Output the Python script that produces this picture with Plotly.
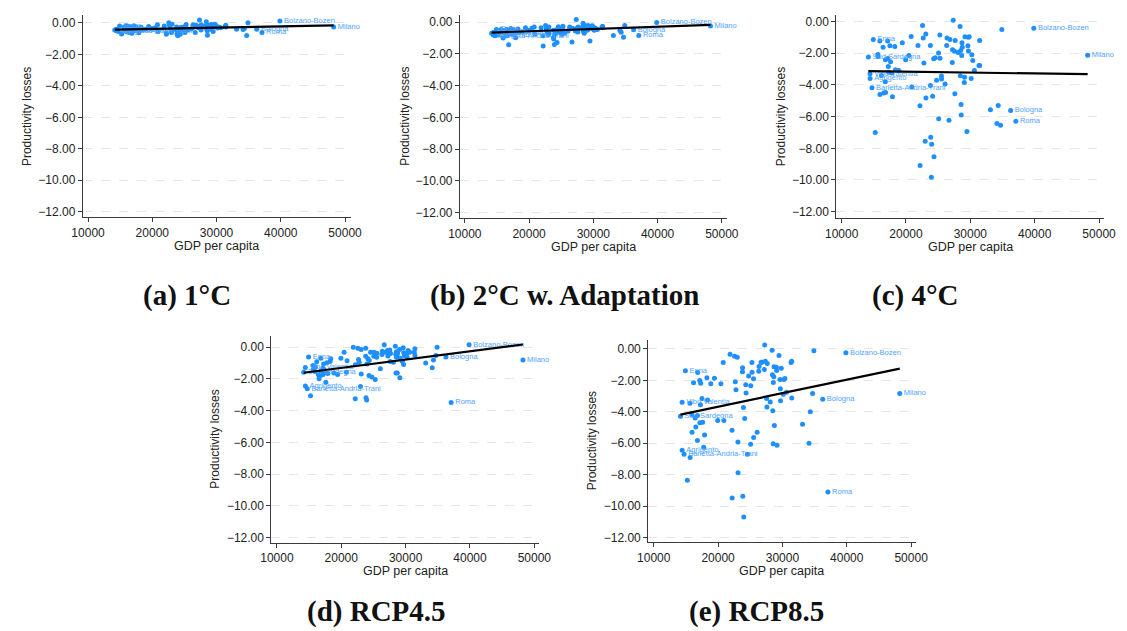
import plotly.graph_objects as go

# ---------------- data ----------------
named = ["Sud Sardegna", "Vibo Valentia", "Agrigento", "Barletta-Andria-Trani", "Enna",
         "Bologna", "Roma", "Bolzano-Bozen", "Milano"]
named_gdp = [14157, 14410, 14420, 14715, 14918, 36260, 37070, 39860, 48230]
named_a = [-0.45, -0.40, -0.50, -0.55, -0.20, -0.40, -0.61, 0.13, -0.25]
named_b = [-0.70, -0.65, -0.80, -0.85, -0.45, -0.48, -0.84, -0.02, -0.23]
named_c = [-2.24, -3.29, -3.59, -4.17, -1.13, -5.62, -6.29, -0.42, -2.12]
named_d = [-1.57, -1.28, -2.45, -2.62, -0.61, -0.61, -3.48, 0.15, -0.80]
named_e = [-4.29, -3.40, -6.44, -6.70, -1.39, -3.21, -9.11, -0.25, -2.83]

gdp = [15222, 15627, 15650, 15932, 15950, 16185, 16440, 16540, 16790, 16800,
       16820, 17150, 17170, 17250, 17300, 17500, 17600, 17760, 17900, 18260,
       18360, 18870, 19430, 19940, 20440, 20800, 20900, 21860, 22170, 22190,
       22570, 22680, 22780, 22980, 23080, 23100, 23790, 23800, 23840, 23940,
       23990, 24140, 24300, 24350, 24550, 24750, 25060, 25080, 25260, 25280,
       25510, 25530, 26070, 26320, 26370, 26680, 26830, 27190, 27240, 27340,
       27540, 27590, 27640, 28100, 28400, 28450, 28500, 28560, 28580, 28660,
       28700, 28750, 29060, 29100, 29160, 29470, 29620, 29680, 29700, 29820,
       30130, 30230, 30380, 30630, 31340, 31440, 31450, 33120, 34130, 34330,
       34690, 34890]

loss_a = [-0.70, -0.25, -0.45, -0.20, -0.55, -0.40, -0.22, -0.60, -0.45, -0.30,
          -0.65, -0.18, -0.35, -0.42, -0.50, -0.25, -0.38, -0.48, -0.62, -0.28,
          -0.45, -0.40, -0.22, -0.35, -0.30, -0.12, -0.55, -0.20, -0.62, -0.72,
          0.02, -0.15, -0.35, -0.60, -0.08, -0.50, -0.25, -0.45, -0.70, -0.78,
          -0.80, -0.55, -0.30, -0.72, -0.28, -0.42, -0.22, -0.60, -0.10, -0.32,
          -0.40, -0.45, -0.38, -0.18, -0.12, -0.60, -0.15, -0.30, -0.22, 0.19,
          -0.20, -0.45, -0.12, -0.22, 0.08, -0.38, -0.20, -0.50, -0.78, -0.25,
          -0.15, -0.18, -0.40, -0.35, -0.10, -0.55, -0.15, -0.08, -0.22, -0.12,
          -0.32, -0.25, -0.28, -0.30, -0.22, -0.15, -0.25, -0.40, -0.42, -0.35,
          -0.80, 0.02]

loss_b = [-0.80, -0.45, -0.60, -0.50, -1.00, -0.70, -0.45, -0.85, -0.70, -0.55,
          -1.42, -0.40, -0.55, -0.65, -0.75, -0.45, -0.60, -0.70, -0.98, -0.42,
          -0.65, -0.60, -0.35, -0.50, -0.38, -0.30, -0.75, -0.35, -0.85, -1.49,
          -0.20, -0.40, -0.60, -0.78, -0.30, -0.70, -0.50, -0.96, -1.05, -1.40,
          -0.75, -0.70, -0.45, -1.28, -0.28, -0.65, -0.40, -0.78, -0.25, -0.48,
          -0.60, -0.70, -0.55, -0.30, -0.35, -1.24, -0.40, -0.55, -0.45, 0.17,
          -0.35, -0.62, -0.30, -0.35, -0.06, -0.55, -0.25, -0.65, -0.70, -0.40,
          -0.30, -0.22, -0.50, -0.45, -0.20, -1.19, -0.30, -0.25, -0.40, -0.22,
          -0.50, -0.35, -0.40, -0.45, -0.30, -0.25, -0.35, -0.84, -0.52, -0.63,
          -0.94, -0.21]

loss_c = [-7.00, -2.08, -2.20, -1.22, -4.60, -3.40, -1.62, -4.51, -3.80, -2.41,
          -4.47, -1.22, -2.33, -2.83, -3.20, -1.53, -2.54, -3.25, -4.74, -1.57,
          -3.04, -3.08, -1.34, -2.41, -2.14, -0.94, -4.13, -1.51, -5.31, -9.08,
          -0.25, -1.03, -2.62, -7.55, -0.78, -4.82, -1.51, -4.03, -7.30, -9.82,
          -7.74, -4.72, -2.35, -8.54, -2.29, -3.71, -1.99, -6.13, -0.84, -2.31,
          -3.44, -3.63, -3.94, -1.51, -1.03, -6.23, -1.13, -2.58, -1.78, 0.08,
          -1.87, -4.55, -1.20, -1.95, -0.31, -3.42, -1.83, -5.24, -5.89, -2.14,
          -1.34, -1.62, -3.84, -3.52, -0.96, -6.94, -1.53, -0.99, -1.85, -0.96,
          -3.59, -2.10, -2.45, -3.08, -2.77, -1.20, -2.77, -5.56, -6.44, -5.29,
          -6.55, -0.50]

loss_d = [-3.06, -1.15, -1.40, -1.53, -1.25, -0.92, -1.74, -1.99, -1.78, -1.51,
          -0.69, -1.32, -1.72, -1.05, -1.40, -1.57, -2.20, -0.98, -1.65, -0.90,
          -0.73, -1.63, -1.72, -0.69, -0.31, -1.57, -0.85, 0.00, -3.25, -1.11,
          -0.06, -0.77, -0.94, -2.47, -0.15, -1.68, -0.06, -0.57, -3.18, -3.33,
          -1.05, -0.73, -1.78, -0.84, -0.31, -1.88, -0.57, -0.31, -0.45, -2.03,
          -0.63, -0.38, -1.36, -0.46, -0.25, 0.15, -0.31, -0.21, -0.55, -0.27,
          -0.18, -0.90, -0.40, -0.94, 0.06, -0.42, -1.63, -0.63, -0.28, -0.50,
          -1.63, -0.36, -0.15, -1.93, -0.69, -0.88, -0.04, -1.09, -0.35, -0.55,
          -0.42, -0.63, -0.20, -0.31, -0.31, -0.10, -0.52, -1.00, -1.30, -0.80,
          -0.52, 0.00]

loss_e = [-8.35, -3.46, -6.91, -4.18, -5.30, -2.16, -4.39, -4.97, -5.83, -4.23,
          -1.50, -2.01, -4.69, -3.55, -2.18, -3.15, -4.67, -6.25, -5.47, -1.84,
          -3.25, -2.22, -1.86, -4.56, -2.22, -0.87, -4.56, -0.34, -5.18, -9.49,
          -0.46, -2.09, -2.60, -0.53, -5.92, -7.88, -1.46, -1.20, -9.38, -3.72,
          -10.69, -4.42, -2.28, -2.81, -6.70, -1.73, -6.06, -2.35, -0.87, -1.48,
          -1.90, -5.64, -5.30, -1.42, -1.12, -0.85, -0.85, -1.31, 0.25, -0.78,
          -3.15, -3.70, -0.93, -3.38, -0.08, -1.65, -3.93, -6.04, -2.13, -1.77,
          -1.14, -4.88, -1.16, -1.37, -6.13, -0.42, -1.94, -2.54, -3.30, -1.23,
          -2.89, -1.94, -1.88, -2.75, -0.87, -0.78, -3.13, -4.80, -6.00, -3.99,
          -2.83, -0.11]

# linear-fit line values read at the lowest and highest GDP
fit_x = [14157, 48230]
fit_a = [-0.42, -0.15]
fit_b = [-0.65, -0.17]
fit_c = [-3.13, -3.32]
fit_d = [-1.61, 0.17]
fit_e = [-4.18, -1.25]

captions = ["(a) 1°C", "(b) 2°C w. Adaptation", "(c) 4°C", "(d) RCP4.5", "(e) RCP8.5"]
yticks = [0, -2, -4, -6, -8, -10, -12]
xticks = [10000, 20000, 30000, 40000, 50000]

# ---------------- layout geometry (screen pixels) ----------------
W, H = 1127, 631
# (left, right, top, bottom) of plot region, y range, x range
boxes = [
    (72.3, 346.0, 15.0, 218.0, [-12.36, 0.51], [9177, 50868]),
    (457.7, 730.7, 15.0, 219.0, [-12.36, 0.46], [9238, 50822]),
    (842.3, 1116.0, 15.0, 219.0, [-12.42, 0.42], [9179, 50806]),
    (265.0, 538.3, 336.7, 544.3, [-12.31, 0.73], [9133, 50700]),
    (650.0, 923.3, 340.7, 544.0, [-12.30, 0.59], [9133, 50700]),
]
cap_pos = [(179, 296), (565, 296), (923, 296), (372, 613), (761, 613)]

series = [(loss_a, named_a, fit_a), (loss_b, named_b, fit_b), (loss_c, named_c, fit_c),
          (loss_d, named_d, fit_d), (loss_e, named_e, fit_e)]

DOT = "#1e8fff"
LAB = "#4fa3ff"
AX = "#3a3a3a"
FONT = "Liberation Sans"

fig = go.Figure()
layout = dict(width=W, height=H, margin=dict(l=0, r=0, t=0, b=0),
              paper_bgcolor="white", plot_bgcolor="white", showlegend=False)
annotations = []


def px(v):
    return v / W


def py(v):
    return 1 - v / H


for i, ((vals, nvals, fit), box, cap) in enumerate(zip(series, boxes, cap_pos)):
    k = "" if i == 0 else str(i + 1)
    xa, ya = "x" + k, "y" + k
    l, r, t, b, yr, xr = box
    fig.add_trace(go.Scatter(x=gdp, y=vals, mode="markers", xaxis=xa, yaxis=ya,
                             marker=dict(color=DOT, size=5, line=dict(width=0))))
    fig.add_trace(go.Scatter(x=named_gdp, y=nvals, mode="markers+text", text=named,
                             textposition="middle right", xaxis=xa, yaxis=ya, cliponaxis=False,
                             textfont=dict(family=FONT, size=7.5, color=LAB),
                             marker=dict(color=DOT, size=5, line=dict(width=0))))
    fig.add_trace(go.Scatter(x=fit_x, y=fit, mode="lines", xaxis=xa, yaxis=ya,
                             line=dict(color="black", width=2.2)))
    layout["xaxis" + k] = dict(domain=[px(l), px(r)], anchor=ya, range=xr,
                               tickvals=xticks, tickformat="d", ticks="outside", ticklen=4,
                               tickcolor=AX, showline=True, linecolor=AX, linewidth=1,
                               showgrid=False, zeroline=False,
                               tickfont=dict(family=FONT, size=12, color="#222"))
    layout["yaxis" + k] = dict(domain=[py(b), py(t)], anchor=xa, range=yr,
                               tickvals=yticks, tickformat=".2f", ticks="outside", ticklen=4,
                               tickcolor=AX, showline=True, linecolor=AX, linewidth=1,
                               showgrid=True, gridcolor="#e6e6e6", griddash="dash", gridwidth=1,
                               zeroline=False, tickfont=dict(family=FONT, size=12, color="#222"))
    annotations.append(dict(text="GDP per capita", xref="paper", yref="paper",
                            x=px((l + r) / 2), y=py(b + 29), showarrow=False,
                            xanchor="center", yanchor="middle",
                            font=dict(family=FONT, size=12.5, color="#222")))
    annotations.append(dict(text="Productivity losses", xref="paper", yref="paper",
                            x=px(l - 57), y=py((t + b) / 2), showarrow=False,
                            textangle=-90, xanchor="center", yanchor="middle",
                            font=dict(family=FONT, size=12, color="#222")))
    annotations.append(dict(text="<b>" + captions[i] + "</b>", xref="paper", yref="paper",
                            x=px(cap[0]), y=py(cap[1]), showarrow=False,
                            xanchor="center", yanchor="middle",
                            font=dict(family="Liberation Serif", size=29, color="#111")))

layout["annotations"] = annotations
fig.update_layout(**layout)
fig.write_html("out.html", config={"displayModeBar": False},
               post_script="document.body.style.margin='0px';document.body.style.overflow='hidden';")
